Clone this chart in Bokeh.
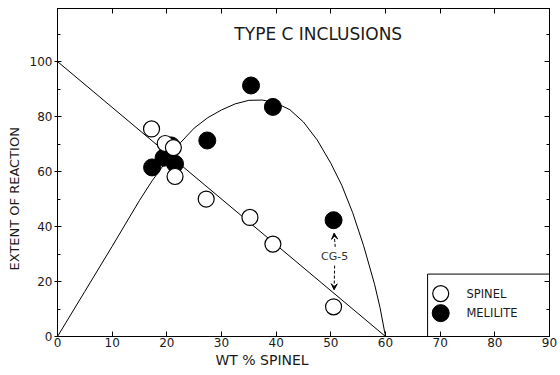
from bokeh.plotting import figure
from bokeh.models import (LinearAxis, FixedTicker, Label, Arrow, VeeHead,
                          Range1d, Title)
from bokeh.core.properties import value
from bokeh.embed import file_html
from bokeh.resources import INLINE

# ---- data ----
spinel_x = [17.2, 19.7, 21.2, 21.5, 27.2, 35.2, 39.4, 50.5]
spinel_y = [75.5, 70.2, 68.7, 58.2, 50.0, 43.3, 33.6, 10.8]

melilite_x = [17.3, 19.4, 20.8, 21.5, 27.4, 35.4, 39.4, 50.5]
melilite_y = [61.5, 65.0, 69.5, 62.8, 71.3, 91.3, 83.5, 42.3]

# straight reaction line
line_x = [0, 60]
line_y = [100, 0]

# hand-drawn curve through the melilite points
curve_x = [0, 5, 10, 15, 17.3, 20, 22.5, 25, 27.5, 30, 32.5, 35, 37.5, 40,
           42.5, 45, 47.5, 50, 52, 54, 56, 58, 59, 60]
curve_y = [0, 16.4, 32.8, 49.5, 56.6, 64.0, 70.5, 75.8, 79.6, 82.4, 84.6, 85.9,
           86.0, 84.9, 82.5, 78.0, 71.5, 63.0, 55.0, 45.0, 33.0, 19.0, 10.5, 0]

x_ticks = [0, 10, 20, 30, 40, 50, 60, 70, 80, 90]
y_ticks = [0, 20, 40, 60, 80, 100]
y_minor = [10, 30, 50, 70, 90, 110]

title_text = "TYPE C INCLUSIONS"
x_label = "WT % SPINEL"
y_label = "EXTENT OF REACTION"
legend_labels = ["SPINEL", "MELILITE"]
note_text = "CG-5"

FONT = "DejaVu Sans"
INK = "#1a1a1a"

p = figure(width=560, height=375, output_backend="svg", toolbar_location=None,
           x_range=Range1d(0, 90), y_range=Range1d(0, 119.3),
           x_axis_type=None, y_axis_type=None,
           min_border_left=57, min_border_right=11, min_border_top=8,
           min_border_bottom=39)
p.background_fill_color = "white"
p.border_fill_color = "white"
p.outline_line_color = "black"
p.outline_line_width = 1
p.xgrid.visible = False
p.ygrid.visible = False

def style_axis(ax, labels=True):
    ax.axis_line_color = "black"
    ax.major_tick_line_color = "black"
    ax.minor_tick_line_color = "black"
    ax.major_label_text_font = FONT
    if labels:
        ax.major_label_text_font_size = "12px"
        ax.major_label_text_color = INK
    else:
        ax.major_label_text_font_size = "1px"
        ax.major_label_text_color = None
        ax.major_label_standoff = 0

# bottom axis
xb = LinearAxis(ticker=FixedTicker(ticks=x_ticks))
style_axis(xb)
xb.major_tick_in = 5
xb.major_tick_out = 0
xb.minor_tick_in = 0
xb.minor_tick_out = 0
xb.major_label_standoff = 1
p.add_layout(xb, "below")

# top axis (ticks only)
xt = LinearAxis(ticker=FixedTicker(ticks=x_ticks))
style_axis(xt, labels=False)
xt.major_tick_in = 5
xt.major_tick_out = 0
xt.minor_tick_in = 0
xt.minor_tick_out = 0
p.add_layout(xt, "above")

# left axis
yl = LinearAxis(ticker=FixedTicker(ticks=y_ticks, minor_ticks=y_minor))
style_axis(yl)
yl.major_tick_in = 4
yl.major_tick_out = 3
yl.minor_tick_in = 3
yl.minor_tick_out = 0
yl.major_label_standoff = 2
p.add_layout(yl, "left")

# right axis (ticks only)
yr = LinearAxis(ticker=FixedTicker(ticks=y_ticks, minor_ticks=y_minor))
style_axis(yr, labels=False)
yr.major_tick_in = 5
yr.major_tick_out = 0
yr.minor_tick_in = 3
yr.minor_tick_out = 0
p.add_layout(yr, "right")

# axis titles as layout panels (positioned like the original lettering)
p.add_layout(Title(text=x_label, align="left", offset=158, standoff=1,
                   text_font=FONT, text_font_size="14px",
                   text_font_style="normal", text_color=INK), "below")
p.add_layout(Title(text=y_label, align="left", offset=66, standoff=9,
                   text_font=FONT, text_font_size="13px",
                   text_font_style="normal", text_color=INK), "left")

# lines
p.line(line_x, line_y, line_color="black", line_width=1)
p.line(curve_x, curve_y, line_color="black", line_width=1)

# points
p.scatter(melilite_x, melilite_y, marker="circle", size=17,
          fill_color="black", line_color="black")
p.scatter(spinel_x, spinel_y, marker="circle", size=16,
          fill_color="white", line_color="black", line_width=1.2)

# chart title inside the frame
p.add_layout(Label(x=47.7, y=110, text=title_text, text_font=FONT,
                   text_font_size="17px", text_color=INK,
                   text_align="center", text_baseline="middle"))

# CG-5 annotation
p.add_layout(Label(x=50.7, y=29, text=note_text, text_font=FONT,
                   text_font_size="11px", text_color="#333333",
                   text_align="center", text_baseline="middle"))
p.add_layout(Arrow(x_start=50.8, y_start=32.6, x_end=50.6, y_end=37.6,
                   line_dash="3 2", line_color="black", line_width=1,
                   end=VeeHead(size=6, fill_color="black", line_color="black")))
p.add_layout(Arrow(x_start=50.7, y_start=25.8, x_end=50.6, y_end=17.0,
                   line_dash="3 2", line_color="black", line_width=1,
                   end=VeeHead(size=6, fill_color="black", line_color="black")))

# legend box (drawn by hand to match the original key)
p.quad(left=[67.7], right=[90], bottom=[0], top=[22.7],
       fill_color="white", line_color="black", line_width=1)
p.scatter([70.1], [15.6], marker="circle", size=16, fill_color="white",
          line_color="black", line_width=1.2)
p.scatter([70.1], [8.5], marker="circle", size=17, fill_color="black",
          line_color="black")
p.text(x=[74.8, 74.8], y=[15.6, 8.4], text=legend_labels,
       text_font=value(FONT), text_font_size="11.5px", text_color=INK,
       text_baseline="middle", text_align="left")

open("out.html", "w").write(file_html(p, INLINE))
